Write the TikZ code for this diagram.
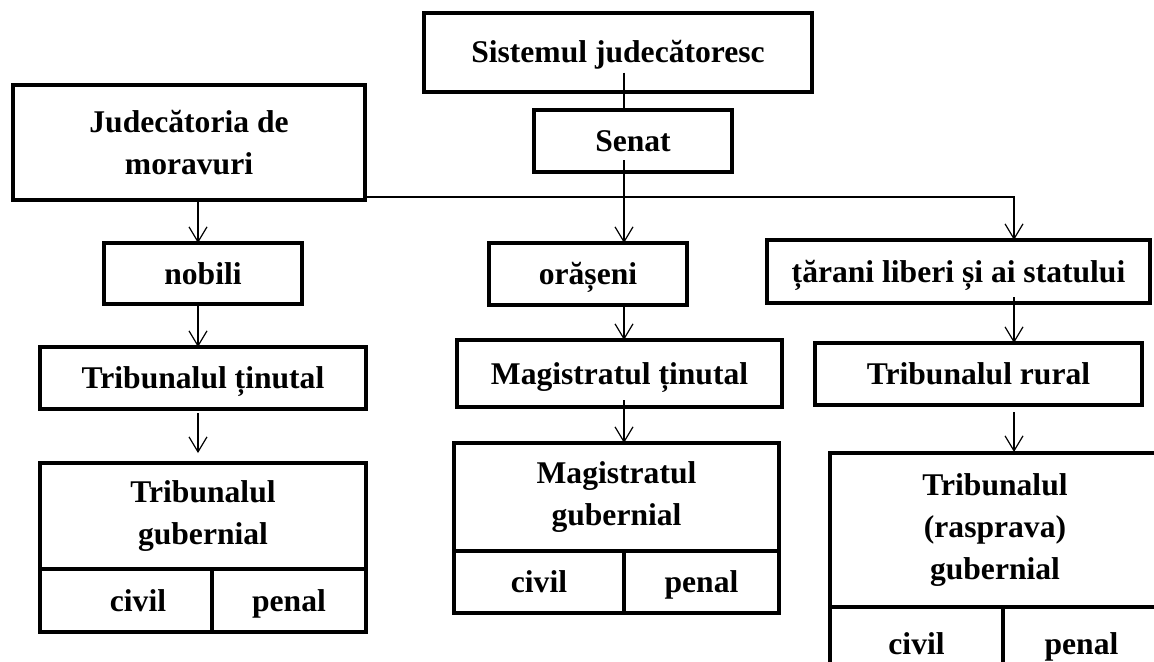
\documentclass[tikz,border=0pt]{standalone}
\usepackage{fontspec}
\setmainfont{Liberation Serif}
\usetikzlibrary{arrows.meta, calc}
\tikzset{>={Straight Barb[length=7.5pt,width=9pt]}}
\tikzset{
  box/.style={draw, line width=2pt, outer sep=0pt, inner sep=0pt, align=center,
    font=\fontsize{15.8}{21}\selectfont\bfseries},
  one/.style={box, text height=14pt, text depth=3.5pt},
  boxsize/.style 2 args={minimum width=#1*0.5pt, minimum height=#2*0.5pt},
  link/.style={line width=0.6pt}
}

\begin{document}
\begin{tikzpicture}[x=0.5pt, y=-0.5pt]
\clip (0,0) rectangle (1154,661);
% columns of the connectors
\coordinate (c1) at (198,0);
\coordinate (c2) at (624,0);
\coordinate (c3) at (1014,0);
% top
\node[one, boxsize={388}{79}] (sis) at (618,52) {Sistemul judecătoresc};
\node[one, boxsize={198}{62}] (senat) at (633,141) {Senat};
\node[box, boxsize={352}{115}] (jud) at (189,142.5) {Judecătoria de\\moravuri};
% second row
\node[one, boxsize={198}{61}] (nob) at (203,273.5) {nobili};
\node[one, boxsize={198}{62}] (oras) at (588,274) {orășeni};
\node[one, boxsize={383}{63}] (tar) at (958.5,271.5) {țărani liberi și ai statului};
% third row
\node[one, boxsize={326}{62}] (tribt) at (203,378) {Tribunalul ținutal};
\node[one, boxsize={325}{67}] (magt) at (619.5,373.5) {Magistratul ținutal};
\node[one, boxsize={327}{62}] (tribr) at (978.5,374) {Tribunalul rural};
% gubernial courts
\node[box, boxsize={326}{106}] (tribg) at (203,516) {Tribunalul\\gubernial};
\node[one, boxsize={172}{63}, anchor=north west] (tribgc) at (tribg.south west) {\hspace{12pt}civil};
\node[one, boxsize={154}{63}, anchor=north east] (tribgp) at (tribg.south east) {penal};
\node[box, boxsize={325}{108}] (magg) at (616.5,497) {Magistratul\\gubernial};
\node[one, boxsize={170}{62}, anchor=north west] (maggc) at (magg.south west) {civil};
\node[one, boxsize={155}{62}, anchor=north east] (maggp) at (magg.south east) {penal};
\node[box, boxsize={330}{154}] (tribrg) at (995,530) {Tribunalul\\(rasprava)\\gubernial};
\node[one, boxsize={173}{73}, anchor=north west] (tribrgc) at (tribrg.south west) {civil};
\node[one, boxsize={157}{73}, anchor=north east] (tribrgp) at (tribrg.south east) {penal};
% connectors
\coordinate (bar) at ($(jud.south east)+(0,-3)$);
\draw[link] ($(c2 |- sis.south)+(0,-19)$) -- (c2 |- senat.north);
\draw[link, ->] ($(c2 |- senat.south)+(0,-12)$) -- (c2 |- oras.north);
\draw[link, ->] (bar) -- (bar -| c3) -- (c3 |- tar.north);
\draw[link, ->] (c1 |- jud.south) -- (c1 |- nob.north);
\draw[link, ->] (c1 |- nob.south) -- (c1 |- tribt.north);
\draw[link, ->] ($(c1 |- tribt.south)+(0,4)$) -- ($(c1 |- tribg.north)+(0,-10)$);
\draw[link, ->] (c2 |- oras.south) -- (c2 |- magt.north);
\draw[link, ->] ($(c2 |- magt.south)+(0,-7)$) -- (c2 |- magg.north);
\draw[link, ->] ($(c3 |- tar.south)+(0,-6)$) -- (c3 |- tribr.north);
\draw[link, ->] ($(c3 |- tribr.south)+(0,7)$) -- ($(c3 |- tribrg.north)+(0,-1)$);
\end{tikzpicture}
\end{document}
